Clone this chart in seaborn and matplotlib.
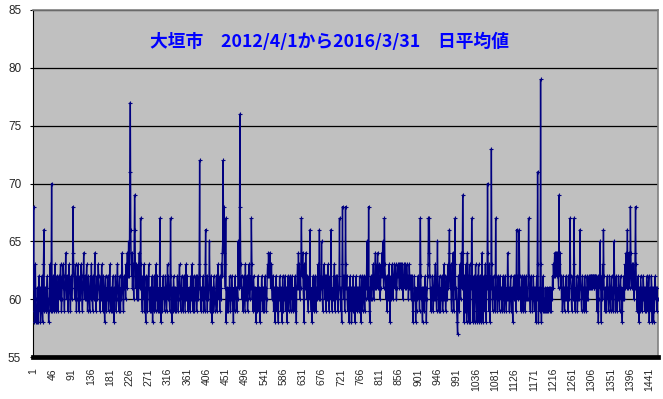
import numpy as np
import pandas as pd
import matplotlib
matplotlib.use("Agg")
import matplotlib.pyplot as plt
import seaborn as sns

# Daily mean values, one row per month (April .. March)
fy2012 = [
    61,68,59,58,59,63,60,58,59,58, 61,59,58,62,60,59,61,58,59,60, 62,59,58,60,63,66,59,61,60,59,
    60,59,61,62,59,60,58,59,61,63, 60,59,62,70,61,59,60,62,61,59, 60,63,61,59,60,62,61,60,59,61, 62,
    61,60,62,63,61,59,60,62,61,63, 62,60,59,61,62,64,61,60,62,61, 59,60,62,63,61,60,59,61,62,60,
    61,63,68,64,62,61,60,62,63,61, 59,60,62,61,63,60,59,61,62,60, 61,63,62,60,59,61,62,64,61,60, 62,
    61,60,62,63,61,59,60,62,61,60, 59,61,62,60,63,61,60,59,62,61, 60,62,64,61,60,59,61,62,60,61, 63,
    62,61,60,59,61,62,60,63,61,60, 59,62,61,60,58,61,62,60,59,61, 60,62,61,59,60,61,63,60,59,61,
    60,59,61,62,60,59,58,61,60,62, 61,59,60,62,63,61,60,59,61,62, 60,59,61,60,62,64,61,60,59,61, 62,
    61,62,60,63,62,61,64,62,63,65, 62,64,71,77,66,63,62,64,61,63, 62,60,65,69,66,62,61,63,60,62,
    61,63,60,62,64,61,62,67,63,61, 60,59,62,61,60,63,59,61,60,58, 62,61,59,60,62,61,63,60,59,61, 60,
    59,61,60,62,58,60,61,59,62,60, 61,59,63,60,61,62,59,60,61,60, 59,67,62,60,58,61,60,59,62,61, 60,
    61,59,60,62,61,60,59,61,63,60, 62,61,60,59,61,67,62,60,58,61, 60,59,62,61,60,59,61,60,
    59,61,60,62,61,59,60,62,63,61, 60,59,61,62,60,61,59,60,62,61, 60,59,61,63,60,61,62,60,59,61, 60,
]
fy2013 = [
    60,61,59,62,60,61,63,60,59,61, 62,60,59,61,60,62,61,59,60,62, 61,60,61,63,72,62,60,59,61,60,
    61,60,62,59,61,60,59,63,66,61, 60,62,59,61,60,61,62,65,61,59, 60,62,60,58,61,60,59,62,61,60, 59,
    60,61,62,59,60,61,63,62,60,61, 59,62,61,60,63,62,64,65,72,64, 68,62,63,61,67,58,60,61,59,60,
    59,61,60,62,60,59,61,60,62,61, 59,60,58,61,60,59,62,60,61,60, 59,61,60,65,62,61,63,76,68,63, 61,
    62,60,61,59,60,62,61,60,59,63, 61,60,62,61,59,60,61,63,62,60, 61,62,61,67,63,60,61,59,62,61, 60,
    59,61,60,58,61,59,60,62,60,59, 61,60,58,59,61,60,62,61,59,60, 61,60,59,61,62,60,61,59,60,62,
    63,62,64,63,62,64,63,61,62,63, 61,60,62,61,59,60,61,58,60,62, 61,59,60,61,59,58,61,60,62,61, 60,
    59,61,60,58,62,60,59,61,60,62, 61,59,60,61,58,60,62,61,59,60, 61,62,60,59,61,60,62,61,59,60,
    61,60,59,62,61,60,58,61,62,63, 61,64,62,63,60,62,61,64,67,63, 62,64,61,60,58,63,62,61,64,62, 60,
    61,62,60,59,61,62,60,66,61,60, 59,61,58,60,62,61,59,60,61,62, 60,59,61,60,62,61,63,60,62,66, 61,
    60,62,61,65,61,60,59,62,61,63, 62,60,61,59,62,61,60,62,63,61, 60,59,61,62,60,66,61,60,
    59,61,60,62,61,63,60,59,62,61, 60,62,61,59,60,61,62,67,61,60, 59,61,58,63,68,62,61,60,62,59, 61,
]
fy2014 = [
    68,63,61,62,60,59,61,60,58,61, 60,62,59,61,58,60,61,59,62,60, 61,59,58,60,61,62,60,59,61,60,
    61,60,59,62,60,61,58,60,62,61, 59,60,61,62,60,59,61,60,62,61, 65,61,62,60,68,61,59,58,61,60, 62,
    60,61,62,61,63,60,62,61,63,64, 62,61,63,62,64,61,62,63,61,62, 60,61,63,62,64,62,65,63,61,62,
    67,63,62,61,60,62,59,61,60,62, 61,63,60,58,61,62,60,61,63,62, 60,61,62,63,62,61,63,62,60,61, 62,
    63,62,63,62,61,63,62,63,61,62, 63,62,60,61,62,63,62,61,63,62, 61,63,62,61,62,60,61,63,62,61, 62,
    61,60,62,61,59,58,60,61,62,60, 61,58,60,59,61,60,62,61,60,61, 59,63,67,62,60,61,59,58,60,61,
    60,59,61,62,60,61,58,60,61,62, 63,67,64,67,62,61,60,59,61,60, 62,61,59,60,61,62,60,63,61,60, 59,
    62,65,61,60,59,61,62,60,59,61, 60,62,61,59,60,61,63,60,62,61, 59,60,61,62,60,63,61,62,64,66,
    62,61,63,60,59,61,62,64,60,59, 61,63,67,62,60,61,59,58,57,60, 62,61,59,63,61,60,62,64,61,63, 69,
    64,61,58,62,60,59,63,61,58,60, 64,62,59,58,61,63,60,58,62,61, 67,63,60,58,61,62,59,58,60,63, 61,
    60,58,62,59,61,63,58,60,62,59, 61,58,60,64,61,59,58,62,60,61, 59,63,60,58,62,61,70,64,
    61,59,63,60,58,62,61,73,63,60, 59,61,62,60,61,59,60,67,62,60, 61,59,62,60,61,60,59,62,61,60, 61,
]
fy2015 = [
    60,59,61,62,60,61,59,60,62,61, 60,59,61,60,64,62,60,61,59,60, 61,62,60,59,61,60,58,61,62,60,
    61,60,62,59,61,66,62,61,60,62, 61,66,62,60,61,59,60,62,61,60, 59,61,62,60,61,59,60,62,61,60, 61,
    60,62,67,62,61,60,59,61,62,60, 61,59,60,62,61,60,59,61,60,58, 61,62,60,71,63,58,61,60,59,60,
    79,63,58,61,60,59,62,60,59,60, 59,61,60,59,60,61,59,60,59,61, 60,59,60,61,59,60,61,60,62,61, 63,
    62,63,64,62,63,64,63,62,64,63, 62,61,69,63,62,64,61,62,60,61, 59,60,62,61,60,59,61,60,62,60, 61,
    60,61,59,62,60,61,62,67,62,61, 60,59,61,62,60,61,67,63,60,59, 61,60,62,61,59,60,61,62,60,61,
    66,62,61,60,59,61,62,60,61,59, 60,62,61,60,59,61,60,62,61,60, 61,62,61,62,61,62,62,61,62,61, 62,
    62,61,62,61,62,62,61,62,60,59, 61,62,58,60,62,61,65,62,61,58, 62,60,63,61,66,62,60,61,59,61,
    60,59,61,62,60,61,59,60,62,61, 60,59,61,62,60,61,59,60,62,65, 61,60,59,61,62,60,59,61,60,62, 61,
    60,59,61,62,60,61,59,58,61,60, 62,61,60,63,61,62,64,61,63,66, 62,61,64,63,61,62,68,64,62,61, 63,
    62,61,63,60,62,61,64,68,63,61, 60,59,61,62,60,58,61,60,59,62, 61,60,59,61,60,62,61,60,59,
    60,61,59,60,62,61,60,59,61,62, 58,60,61,59,60,62,61,58,60,61, 58,60,59,61,62,60,61,60,59,61, 60,
]

x_ticks = list(range(1, 1442, 45))
y_ticks = [55, 60, 65, 70, 75, 80, 85]
title = "大垣市　2012/4/1から2016/3/31　日平均値"

values = fy2012 + fy2013 + fy2014 + fy2015
df = pd.DataFrame({"day": np.arange(1, len(values) + 1), "value": values})

sns.set_style("white")
plt.rcParams["font.family"] = ["Liberation Sans", "DejaVu Sans"]

fig = plt.figure(figsize=(6.63, 3.99), dpi=100)
ax = fig.add_axes([33 / 663, 42 / 399, 625 / 663, 347 / 399])
ax.set_facecolor("#C0C0C0")

sns.lineplot(data=df, x="day", y="value", color="#000080", linewidth=1.0,
             marker="+", markersize=3.5, markeredgewidth=0.8,
             markeredgecolor="#000080", markerfacecolor="#000080",
             ax=ax, zorder=3)

ax.set_xlim(0.5, len(values) + 0.5)
ax.set_ylim(55, 85)
ax.set_yticks(y_ticks)
ax.set_xticks(x_ticks)
ax.set_xticklabels([str(t) for t in x_ticks], rotation=90)
ax.yaxis.grid(True, color="black", linewidth=0.9)
ax.xaxis.grid(False)
ax.set_axisbelow(True)
ax.set_xlabel("")
ax.set_ylabel("")

ax.tick_params(axis="y", labelsize=8.5, length=2.5, width=0.8, color="black",
               pad=6, left=True)
ax.tick_params(axis="x", labelsize=7.5, length=0, pad=8, bottom=True)

for side in ["top", "right"]:
    ax.spines[side].set_color("#808080")
    ax.spines[side].set_linewidth(1.2)
ax.spines["left"].set_color("black")
ax.spines["left"].set_linewidth(0.8)
ax.spines["bottom"].set_color("black")
ax.spines["bottom"].set_linewidth(3.4)

ax.text(0.475, 0.908, title, transform=ax.transAxes, ha="center", va="center",
        color="#0000FF", fontsize=12.8, fontweight="bold",
        family=["Noto Sans CJK JP", "DejaVu Sans"], zorder=4)

fig.savefig("out.png", dpi=100)
